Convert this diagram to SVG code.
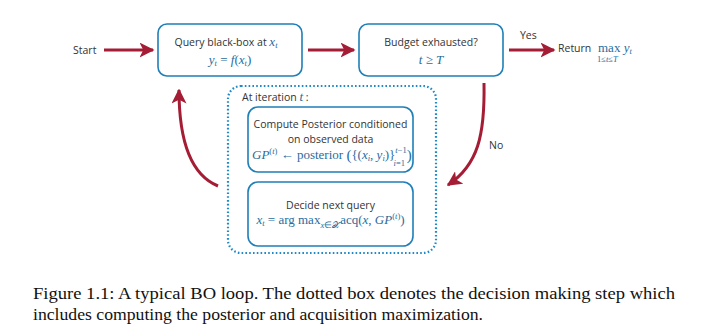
<svg xmlns="http://www.w3.org/2000/svg" width="721" height="335" viewBox="0 0 721 335">
<style>
.box{fill:#fff;stroke:#1f7fb8;stroke-width:1.6}
.lbl{font-family:"Open Sans",sans-serif;font-size:10.5px;fill:#333}
.m{font-family:"Liberation Serif",serif;font-size:13px;fill:#2b6c9c}
.i{font-style:italic}
.s{font-size:8.5px}
.big{font-size:15px}
.arr{fill:none;stroke:#a41d35;stroke-width:3}
.cap{font-family:"Liberation Serif",serif;font-size:16px;fill:#111}
</style>
<defs>
<marker id="ah" viewBox="0 0 10 10" refX="9" refY="5" markerWidth="5" markerHeight="5" markerUnits="strokeWidth" orient="auto">
<path d="M0,0 L10,5 L0,10 L2.5,5 Z" fill="#a41d35"/>
</marker>
</defs>
<rect width="721" height="335" fill="#fff"/>

<g id="start"><text class="lbl" x="73" y="54">Start</text></g>

<g id="query">
<rect class="box" x="158" y="24" width="144" height="52" rx="9"/>
<text class="lbl" x="226" y="46" text-anchor="middle">Query black-box at <tspan class="m i">x<tspan class="s" dy="2">t</tspan></tspan></text>
<text class="m" x="230" y="64" text-anchor="middle"><tspan class="i">y</tspan><tspan class="s i" dy="2">t</tspan><tspan dy="-2"> = </tspan><tspan class="i">f</tspan>(<tspan class="i">x</tspan><tspan class="s i" dy="2">t</tspan><tspan dy="-2">)</tspan></text>
</g>

<g id="budget">
<rect class="box" x="359" y="24" width="144" height="52" rx="9"/>
<text class="lbl" x="431" y="46" text-anchor="middle">Budget exhausted?</text>
<text class="m" x="431" y="64" text-anchor="middle"><tspan class="i">t</tspan> ≥ <tspan class="i">T</tspan></text>
</g>

<g id="return">
<text class="lbl" x="558" y="52">Return</text>
<text class="m" x="598" y="52">max <tspan class="i">y</tspan><tspan class="s i" dy="2">t</tspan></text>
<text class="m s" x="597" y="62">1≤<tspan class="i">t</tspan>≤<tspan class="i">T</tspan></text>
</g>

<g id="iteration">
<rect x="228" y="86" width="208" height="167" rx="13" fill="none" stroke="#1f8ac8" stroke-width="2.2" stroke-dasharray="1.6 2.2"/>
<text class="lbl" x="242" y="101">At iteration <tspan class="m i">t</tspan> :</text>
</g>

<g id="posterior">
<rect class="box" x="248" y="107" width="165" height="65" rx="10"/>
<text class="lbl" x="330.5" y="128" text-anchor="middle">Compute Posterior conditioned</text>
<text class="lbl" x="330.5" y="143" text-anchor="middle">on observed data</text>
<text class="m" x="252" y="159"><tspan class="i">GP</tspan><tspan class="s" dy="-5">(<tspan class="i">t</tspan>)</tspan><tspan dy="5"> ← posterior </tspan><tspan class="big" dy="1">(</tspan><tspan dy="-1">{(</tspan><tspan class="i">x</tspan><tspan class="s i" dy="2">i</tspan><tspan dy="-2">, </tspan><tspan class="i">y</tspan><tspan class="s i" dy="2">i</tspan><tspan dy="-2">)}</tspan><tspan class="s" dy="-6"><tspan class="i">t</tspan>−1</tspan><tspan class="big" dy="7">)</tspan></text>
<text class="m s" x="393.5" y="165.5"><tspan class="i">i</tspan>=1</text>
</g>

<g id="decide">
<rect class="box" x="248" y="182" width="165" height="64" rx="10"/>
<text class="lbl" x="330.5" y="209" text-anchor="middle">Decide next query</text>
<text class="m" x="330.5" y="224" text-anchor="middle"><tspan class="i">x</tspan><tspan class="s i" dy="2">t</tspan><tspan dy="-2"> = arg max</tspan><tspan class="s" dy="4"><tspan class="i">x</tspan>∈𝒳</tspan><tspan dy="-4">acq(</tspan><tspan class="i">x</tspan>, <tspan class="i">GP</tspan><tspan class="s" dy="-5">(<tspan class="i">t</tspan>)</tspan><tspan dy="5">)</tspan></text>
</g>

<g id="connectors">
<line class="arr" x1="104" y1="50" x2="153" y2="50" marker-end="url(#ah)"/>
<line class="arr" x1="308" y1="50" x2="354" y2="50" marker-end="url(#ah)"/>
<line class="arr" x1="509" y1="50" x2="554" y2="50" marker-end="url(#ah)"/>
<path class="arr" d="M218,186 Q179,170 179,90" marker-end="url(#ah)"/>
<path class="arr" d="M484,83 C485,135 478,165 448,185" marker-end="url(#ah)"/>
<text class="lbl" x="520" y="39">Yes</text>
<text class="lbl" x="489" y="149">No</text>
</g>

<g id="caption">
<text class="cap" x="33" y="299" textLength="642" lengthAdjust="spacingAndGlyphs">Figure 1.1:  A typical BO loop.  The dotted box denotes the decision making step which</text>
<text class="cap" x="33" y="320" textLength="450" lengthAdjust="spacingAndGlyphs">includes computing the posterior and acquisition maximization.</text>
</g>
</svg>
